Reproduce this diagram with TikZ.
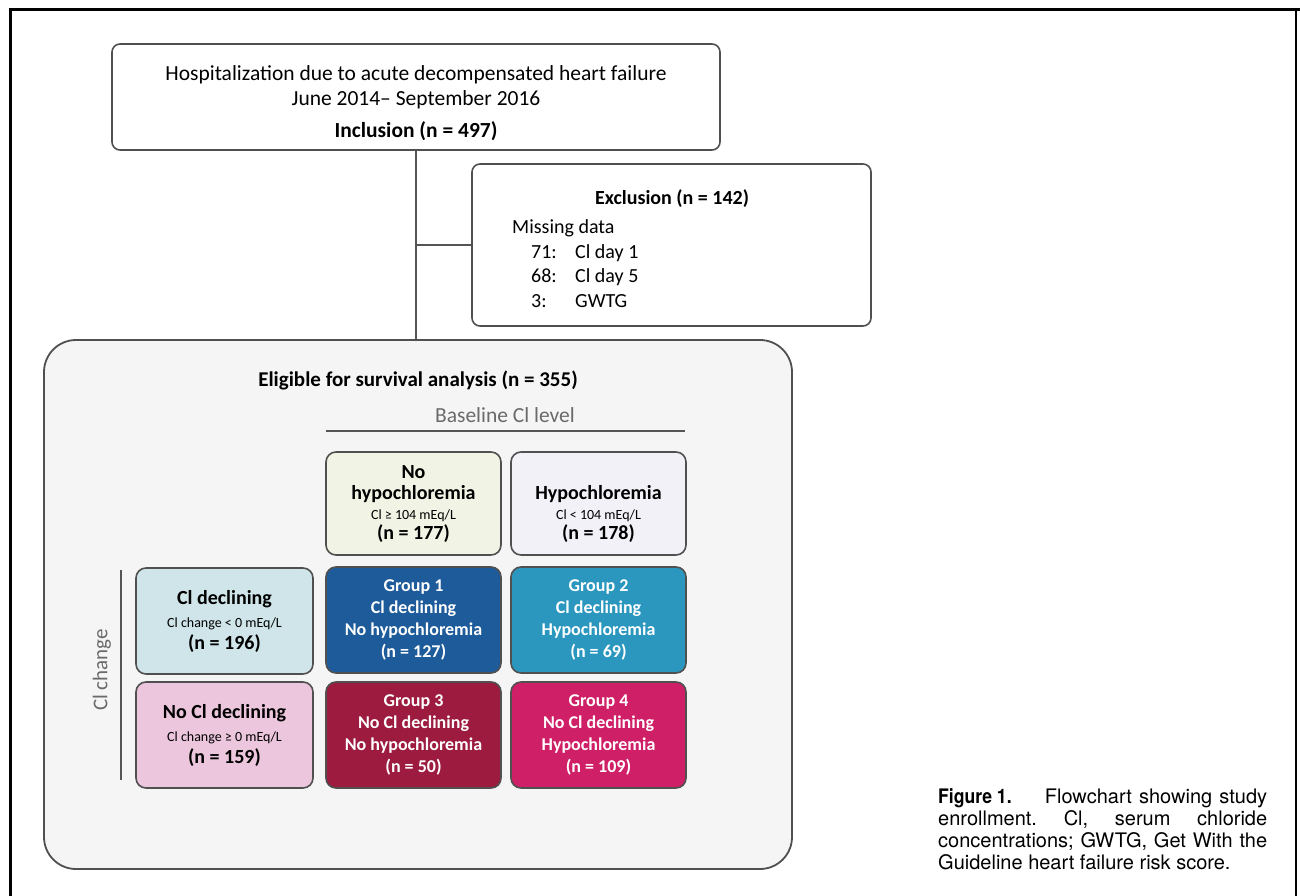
\documentclass[tikz,border=0pt]{standalone}
\usepackage{fontspec}
\usepackage{graphicx}
\setmainfont{Carlito}
\newfontfamily\capfont{TeX Gyre Heros}
\definecolor{bord}{HTML}{505050}
\definecolor{lnk}{HTML}{555555}
\definecolor{elig}{HTML}{F5F5F5}
\definecolor{nohypo}{HTML}{F1F4E4}
\definecolor{hypo}{HTML}{F3F1F8}
\definecolor{cldec}{HTML}{CFE5EA}
\definecolor{nocldec}{HTML}{ECC6DC}
\definecolor{gone}{HTML}{1D5B9A}
\definecolor{gtwo}{HTML}{2B97BF}
\definecolor{gthree}{HTML}{9C1B3F}
\definecolor{gfour}{HTML}{CF1F66}
\definecolor{graytxt}{HTML}{6A6A6A}
\newcommand{\subtxt}[1]{{\fontsize{14}{15}\selectfont\mdseries #1}}
\tikzset{
  flowbox/.style={draw=bord, line width=1.6pt, rounded corners=8pt, fill=white, inner sep=0pt, align=center},
  cellbox/.style={draw=bord, line width=1.6pt, rounded corners=10pt, inner sep=0pt, align=center, minimum width=175pt},
  headcell/.style={cellbox, font=\fontsize{20}{21}\selectfont\bfseries},
  groupcell/.style={cellbox, text=white, minimum height=106pt, font=\fontsize{18}{22}\selectfont\bfseries},
  link/.style={draw=lnk, line width=2pt},
  txt/.style={inner sep=0pt, font=\fontsize{20}{22}\selectfont},
}
\begin{document}
\begin{tikzpicture}[x=1pt,y=-1pt]
\useasboundingbox (0,0) rectangle (1300,896);
% frame
\draw[line width=3pt] (10,896) -- (10,10) -- (1300,10);
\draw[line width=2pt] (1296,10) -- (1296,896);
% top box
\node[flowbox, minimum width=608pt, minimum height=106pt] (top) at (416,97) {};
\node[txt, align=center, font=\fontsize{21.5}{25}\selectfont] (topT) at (416,103)
  {Hospitalization due to acute decompensated heart failure\\
   June 2014-- September 2016\\[7pt]
   \bfseries Inclusion (n = 497)};
% exclusion box
\node[flowbox, minimum width=399pt, minimum height=162pt] (excl) at (671.5,245) {};
\node[txt, font=\fontsize{20}{22}\selectfont\bfseries] (exT) at (672,199) {Exclusion (n = 142)};
\node[txt, anchor=west] (exM) at (512,228) {Missing data};
\node[txt, anchor=west] (ex1) at (531,253) {\makebox[44pt][l]{71:}Cl day 1};
\node[txt, anchor=west] (ex2) at (531,277) {\makebox[44pt][l]{68:}Cl day 5};
\node[txt, anchor=west] (ex3) at (531,301) {\makebox[44pt][l]{3:}GWTG};
% eligible box
\node[draw=bord, line width=1.8pt, rounded corners=32pt, fill=elig, minimum width=748pt, minimum height=529pt, inner sep=0pt] (elig) at (418,604.5) {};
% connectors
\draw[link] (top.south) -- (top.south |- elig.north);
\draw[link] (top.south |- excl.west) -- (excl.west);
% title
\node[txt, font=\fontsize{21}{22}\selectfont\bfseries] (eT) at (418,380) {Eligible for survival analysis (n = 355)};
\node[txt, text=graytxt, font=\fontsize{21.5}{22}\selectfont] (base) at (505,415) {Baseline Cl level};
\coordinate (bl1) at (326,431);
\coordinate (bl2) at (685,431);
\draw[draw=lnk, line width=1.6pt] (bl1) -- (bl2);
% Cl change label
\coordinate (cc1) at (121,570);
\coordinate (cc2) at (121,780);
\draw[draw=lnk, line width=1.6pt] (cc1) -- (cc2);
\node[txt, text=graytxt, rotate=90, font=\fontsize{21}{22}\selectfont] (cc) at (102,670) {Cl change};
% row 1
\node[headcell, fill=nohypo, minimum height=103pt] (nh) at (413.5,503.5) {};
\node[txt, align=center, font=\fontsize{20}{21}\selectfont\bfseries] (nhT) at (413.5,504)
  {No\\ hypochloremia\\[-1pt]
   \subtxt{Cl ≥ 104 mEq/L}\\[-1pt]
   (n = 177)};
\node[headcell, fill=hypo, minimum height=103pt] (hy) at (598.5,503.5) {};
\node[txt, align=center, font=\fontsize{20}{21}\selectfont\bfseries, anchor=south] (hyT) at (598.5,543)
  {Hypochloremia\\[-1pt]
   \subtxt{Cl < 104 mEq/L}\\[-1pt]
   (n = 178)};
% row 2
\node[headcell, fill=cldec, minimum width=177pt, minimum height=106pt] (cd) at (224.5,621)
  {Cl declining\\[2pt]
   \subtxt{Cl change < 0 mEq/L}\\[1pt]
   (n = 196)};
\node[groupcell, fill=gone] (g1) at (413.5,620)
  {Group 1\\ Cl declining\\ No hypochloremia\\ (n = 127)};
\node[groupcell, fill=gtwo] (g2) at (598.5,620)
  {Group 2\\ Cl declining\\ Hypochloremia\\ (n = 69)};
% row 3
\node[headcell, fill=nocldec, minimum width=177pt, minimum height=106pt] (nd) at (224.5,735)
  {No Cl declining\\[2pt]
   \subtxt{Cl change ≥ 0 mEq/L}\\[1pt]
   (n = 159)};
\node[groupcell, fill=gthree] (g3) at (413.5,735)
  {Group 3\\ No Cl declining\\ No hypochloremia\\ (n = 50)};
\node[groupcell, fill=gfour] (g4) at (598.5,735)
  {Group 4\\ No Cl declining\\ Hypochloremia\\ (n = 109)};
% caption
\node[inner sep=0pt, anchor=north west, font=\capfont\fontsize{20}{22}\selectfont] (cap) at (938,788)
  {\parbox[t]{329pt}{\frenchspacing
   \makebox[329pt][s]{\scalebox{0.88}[1]{\bfseries Figure 1.}\hspace{1.3em} Flowchart showing study}\\
   \makebox[329pt][s]{enrollment. Cl, serum chloride}\\
   \makebox[329pt][s]{concentrations; GWTG, Get With the}\\
   Guideline heart failure risk score.}};
\end{tikzpicture}
\end{document}
